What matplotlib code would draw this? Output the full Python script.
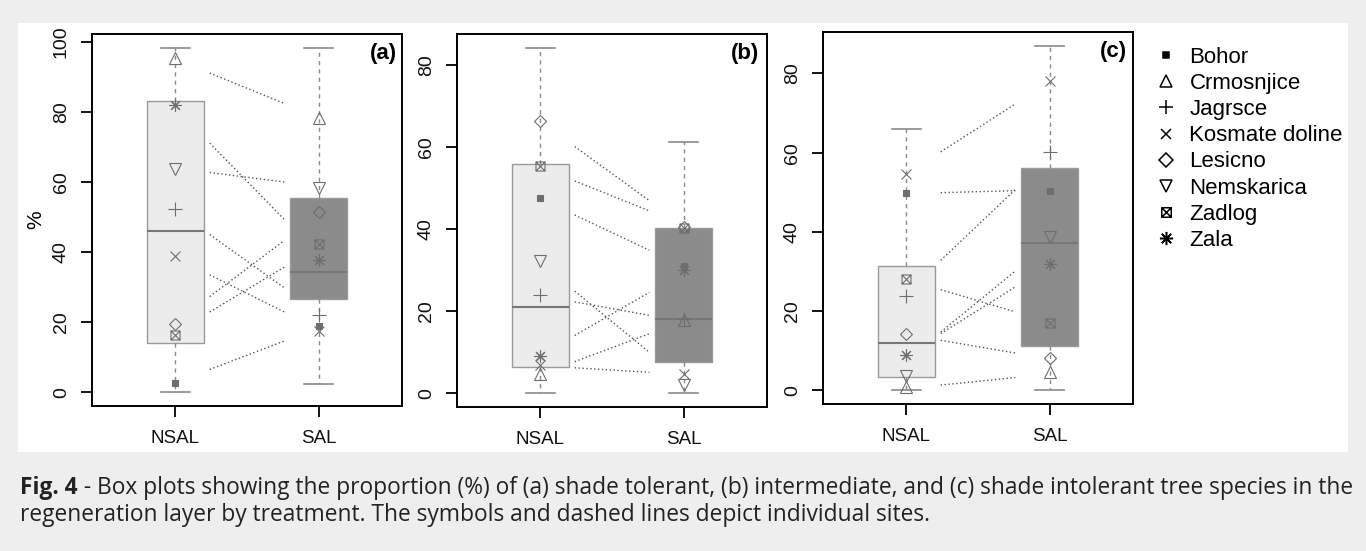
import numpy as np
import matplotlib
matplotlib.use("Agg")
import matplotlib.pyplot as plt
from matplotlib.path import Path
from matplotlib.lines import Line2D
from matplotlib.patches import Rectangle

plt.rcParams['font.family'] = ['Liberation Sans', 'DejaVu Sans']

# ================================================
# Data
# ================================================
sites = ["Bohor", "Crmosnjice", "Jagrsce", "Kosmate doline",
         "Lesicno", "Nemskarica", "Zadlog", "Zala"]
groups = ["NSAL", "SAL"]
panel_tags = ["(a)", "(b)", "(c)"]

# box stats: whislo, q1, med, q3, whishi
box_a_nsal = [0.0, 14.0, 46.1, 83.1, 98.3]
box_a_sal = [2.3, 26.5, 34.3, 55.4, 98.3]
box_b_nsal = [0.0, 6.5, 21.0, 55.9, 84.3]
box_b_sal = [0.0, 7.6, 18.2, 40.4, 61.2]
box_c_nsal = [0.0, 3.4, 12.0, 31.3, 65.9]
box_c_sal = [0.0, 11.2, 37.1, 56.2, 87.0]

# site values, same order as `sites`
pts_a_nsal = [2.6, 95.4, 52.3, 38.8, 19.4, 63.6, 16.3, 81.9]
pts_a_sal = [18.9, 78.4, 22.1, 17.6, 51.3, 58.4, 42.4, 37.8]
pts_b_nsal = [47.6, 4.6, 24.0, 6.8, 66.5, 32.2, 55.5, 9.0]
pts_b_sal = [31.0, 17.9, 18.0, 4.6, 40.6, 1.9, 40.4, 30.0]
pts_c_nsal = [49.9, 0.8, 23.7, 54.7, 14.3, 3.5, 28.2, 9.0]
pts_c_sal = [50.4, 4.5, 60.2, 78.1, 8.2, 38.7, 17.0, 32.0]

# dotted site lines: value at NSAL end, value at SAL end
lines_a_nsal = [91.1, 71.1, 62.7, 45.0, 33.5, 27.3, 22.9, 6.5]
lines_a_sal = [82.4, 49.3, 60.0, 29.8, 22.9, 43.3, 35.7, 14.6]
lines_b_nsal = [60.2, 51.8, 43.5, 24.9, 22.3, 14.1, 7.7, 6.2]
lines_b_sal = [47.0, 44.5, 34.9, 10.0, 19.0, 24.6, 14.5, 5.1]
lines_c_nsal = [60.2, 49.9, 32.8, 25.4, 14.7, 14.3, 12.6, 1.3]
lines_c_sal = [72.3, 50.4, 50.7, 19.8, 30.1, 26.1, 9.4, 3.2]

y_ticks_a = [0, 20, 40, 60, 80, 100]
y_ticks_bc = [0, 20, 40, 60, 80]

caption_bold = "Fig. 4"
caption_1 = (" - Box plots showing the proportion (%) of (a) shade tolerant, (b) intermediate, "
             "and (c) shade intolerant tree species in the")
caption_2 = "regeneration layer by treatment. The symbols and dashed lines depict individual sites."

# ================================================
# Styles
# ================================================
zadlog_path = Path([(-1, -1), (1, -1), (1, 1), (-1, 1), (-1, -1),
                    (-1, -1), (1, 1), (-1, 1), (1, -1)],
                   [Path.MOVETO, Path.LINETO, Path.LINETO, Path.LINETO, Path.CLOSEPOLY,
                    Path.MOVETO, Path.LINETO, Path.MOVETO, Path.LINETO])

site_style = {
    "Bohor": dict(marker="s", ms=4.5, filled=True),
    "Crmosnjice": dict(marker="^", ms=8, filled=False),
    "Jagrsce": dict(marker="+", ms=10, filled=False),
    "Kosmate doline": dict(marker="x", ms=7.5, filled=False),
    "Lesicno": dict(marker="D", ms=6.5, filled=False),
    "Nemskarica": dict(marker="v", ms=8, filled=False),
    "Zadlog": dict(marker=zadlog_path, ms=6.5, filled=False),
    "Zala": dict(marker=(8, 2, 0), ms=9, filled=False),
}

nsal_fill = "#ececec"
sal_fill = "#8b8b8b"
pt_color = "#6e6e6e"

W, H = 1366, 551
fig = plt.figure(figsize=(W / 100, H / 100), dpi=100, facecolor="#eeeeee")
fig.patches.append(Rectangle((18 / W, 1 - 452 / H), (1348 - 18) / W, (452 - 23) / H,
                             transform=fig.transFigure, facecolor="white",
                             edgecolor="none", zorder=-10))

# axes boxes in pixels: left, right, top, bottom
ax_px = [(92, 402, 34, 406), (457, 767, 34, 407), (823, 1133, 32, 404)]

panels = [
    (box_a_nsal, box_a_sal, pts_a_nsal, pts_a_sal, lines_a_nsal, lines_a_sal, y_ticks_a),
    (box_b_nsal, box_b_sal, pts_b_nsal, pts_b_sal, lines_b_nsal, lines_b_sal, y_ticks_bc),
    (box_c_nsal, box_c_sal, pts_c_nsal, pts_c_sal, lines_c_nsal, lines_c_sal, y_ticks_bc),
]
tag_x = [0.985, 0.975, 0.98]

for i, (bn, bs, pn, ps, ln, ls, yt) in enumerate(panels):
    l, r, t, b = ax_px[i]
    ax = fig.add_axes([l / W, 1 - b / H, (r - l) / W, (b - t) / H])
    ax.set_facecolor("white")

    stats = []
    for s in (bn, bs):
        stats.append(dict(whislo=s[0], q1=s[1], med=s[2], q3=s[3], whishi=s[4], fliers=[]))
    bp = ax.bxp(stats, positions=[1, 2], widths=0.4, capwidths=0.2, patch_artist=True,
                showfliers=False,
                boxprops=dict(edgecolor="#9a9a9a", linewidth=1.0),
                medianprops=dict(color="#777777", linewidth=1.5),
                whiskerprops=dict(color="#8a8a8a", linewidth=1.0, linestyle=(0, (3, 3))),
                capprops=dict(color="#8a8a8a", linewidth=1.2))
    bp["boxes"][0].set_facecolor(nsal_fill)
    bp["boxes"][1].set_facecolor(sal_fill)

    # site connecting lines
    for y0, y1 in zip(ln, ls):
        ax.plot([1.24, 1.76], [y0, y1], color="#555555", lw=1.0,
                linestyle=(0, (1, 1.8)), zorder=3)

    # site points
    for j, site in enumerate(sites):
        st = site_style[site]
        for x, vals in ((1, pn), (2, ps)):
            ax.plot(x, vals[j], linestyle="none", marker=st["marker"], ms=st["ms"],
                    mec=pt_color, mfc=pt_color if st["filled"] else "none",
                    mew=0.8, zorder=4)

    top = max(bn[4], bs[4])
    bot = min(bn[0], bs[0])
    rng = top - bot
    ax.set_ylim(bot - 0.04 * rng, top + 0.04 * rng)
    ax.set_xlim(0.42, 2.58)
    ax.set_xticks([1, 2])
    ax.set_xticklabels(groups, fontsize=13.5)
    ax.set_yticks(yt)
    ax.set_yticklabels([str(v) for v in yt], fontsize=14, rotation=90, va="center")
    ax.tick_params(axis="both", length=8, width=1.3, color="black", labelcolor="#111111")
    ax.tick_params(axis="x", pad=9)
    ax.tick_params(axis="y", pad=8)
    for sp in ax.spines.values():
        sp.set_linewidth(1.4)
    ax.text(tag_x[i], 0.947, panel_tags[i], transform=ax.transAxes, ha="right",
            va="center", fontsize=16, fontweight="bold")

fig.text(36 / W, 1 - 220 / H, "%", rotation=90, ha="center", va="center", fontsize=15)

# legend
handles = []
for site in sites:
    st = site_style[site]
    handles.append(Line2D([], [], linestyle="none", marker=st["marker"],
                          ms=st["ms"] * 1.05, color="black", mec="black",
                          mfc="black" if st["filled"] else "none", mew=1.1))
fig.legend(handles, sites, loc="upper left", bbox_to_anchor=(1155 / W, 1 - 47 / H),
           frameon=False, fontsize=16, handlelength=1.0, handletextpad=0.55,
           labelspacing=0.23, borderpad=0, borderaxespad=0)

# caption
cap_kw = dict(family=["Open Sans", "DejaVu Sans"], color="#222222", va="center")
r = fig.canvas.get_renderer()
fs = 12.0
tb = fig.text(0, 0, caption_bold, fontsize=fs, fontweight="bold", **cap_kw)
tr = fig.text(0, 0, caption_1, fontsize=fs, **cap_kw)
wtot = tb.get_window_extent(r).width + tr.get_window_extent(r).width
fs = fs * (1328 / wtot)
tb.set_fontsize(fs)
tr.set_fontsize(fs)
x0 = 20
y1 = 1 - 488 / H
tb.set_position((x0 / W, y1))
wb = tb.get_window_extent(r).width
tr.set_position(((x0 + wb) / W, y1))
fig.text(x0 / W, 1 - 515 / H, caption_2, fontsize=fs, **cap_kw)

fig.savefig("out.png", dpi=100, facecolor=fig.get_facecolor())
